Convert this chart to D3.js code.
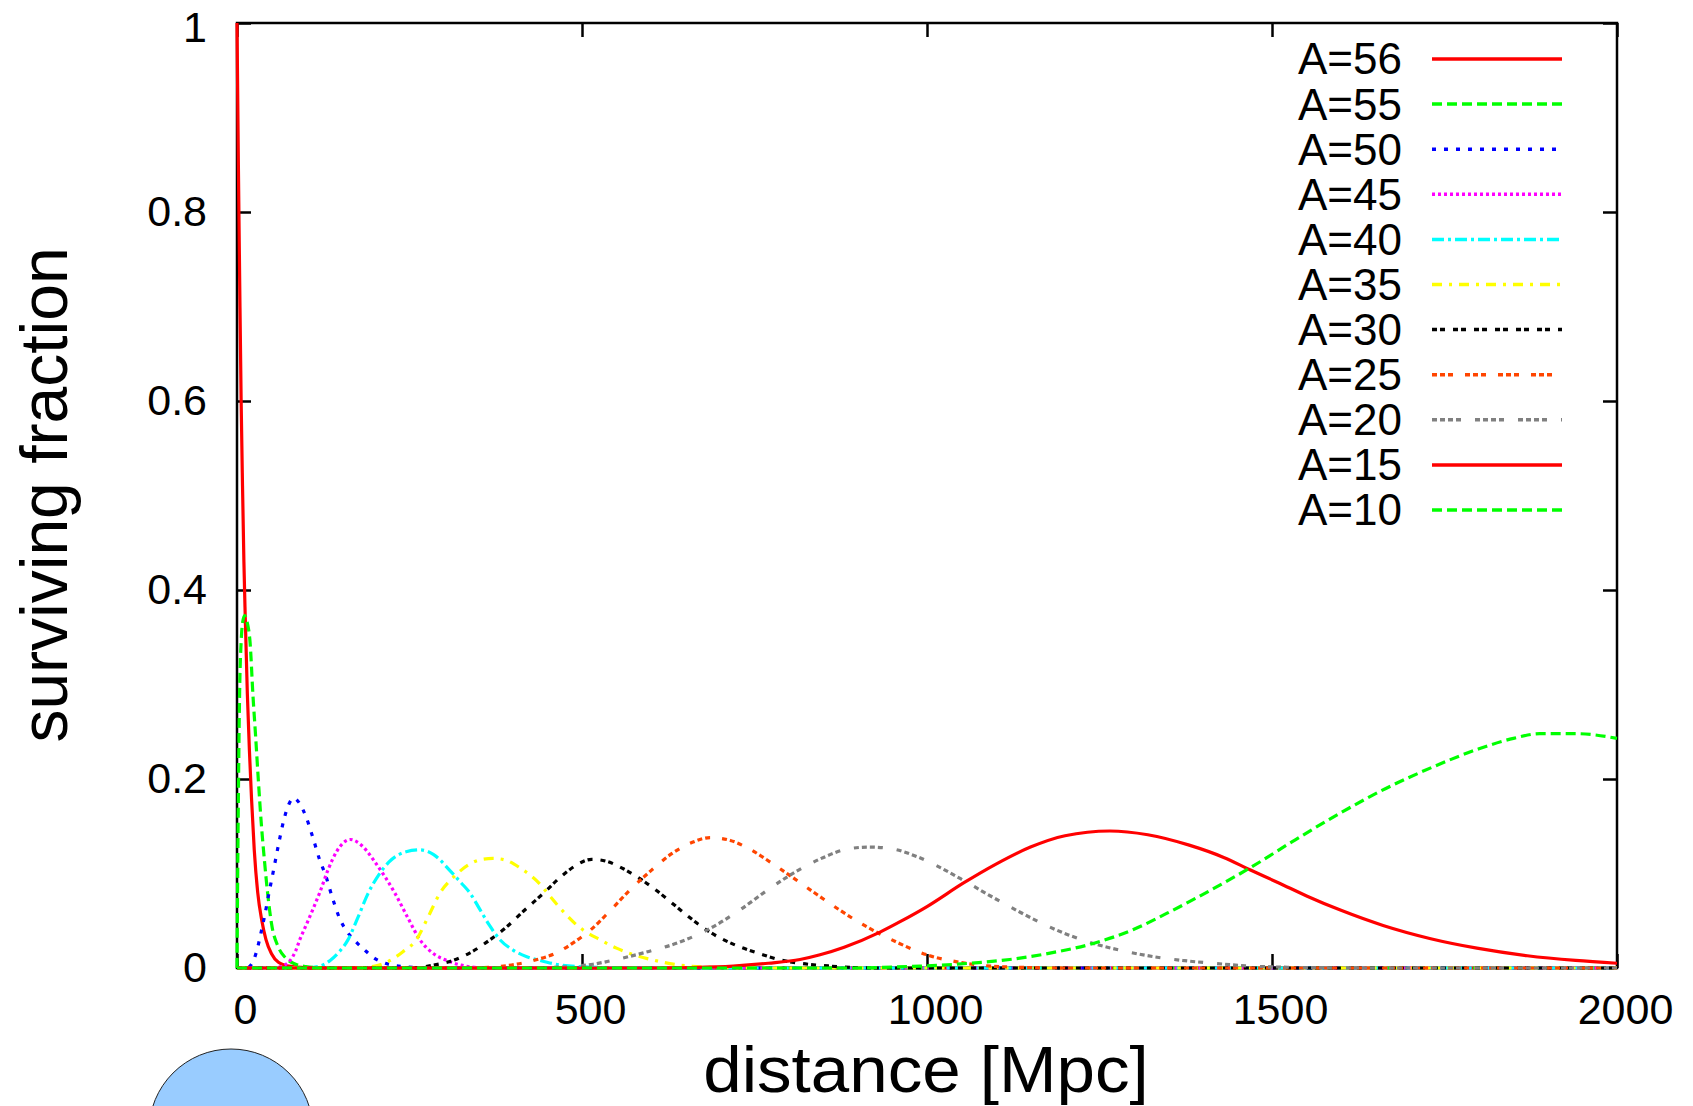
<!DOCTYPE html>
<html>
<head>
<meta charset="utf-8">
<script src="https://cdn.jsdelivr.net/npm/d3@7"></script>
<style>
    body { margin: 0; background: #fff; }
    svg { display: block; }
    text { font-family: "Liberation Sans", Arial, sans-serif; }
</style>
</head>
<body>
<div id="chart"></div>
<script>
// surviving fraction vs distance
const a56 = [[0, 1], [2, 0.85], [4, 0.72], [6, 0.6], [8, 0.51], [10, 0.43], [12, 0.37], [15, 0.29], [18, 0.23],
    [21, 0.18], [25, 0.125], [30, 0.08], [36, 0.05], [42, 0.03], [50, 0.015], [60, 0.006], [75, 0.002],
    [100, 0.0003], [150, 0], [2000, 0]];
const a55 = [[0, 0], [1, 0.1], [2, 0.18], [3, 0.25], [4, 0.3], [6, 0.345], [8, 0.365], [11, 0.373], [15, 0.365],
    [19, 0.344], [23, 0.29], [27, 0.245], [31, 0.198], [35, 0.155], [40, 0.112], [45, 0.075], [50, 0.047],
    [60, 0.022], [70, 0.011], [85, 0.004], [100, 0.0015], [130, 0], [2000, 0]];
const a50 = [[0, 0], [15, 0.0005], [20, 0.003], [25, 0.01], [30, 0.022], [35, 0.038], [40, 0.055], [46, 0.078],
    [52, 0.1], [60, 0.13], [68, 0.157], [75, 0.173], [82, 0.18], [90, 0.175], [100, 0.16], [110, 0.138],
    [120, 0.114], [128, 0.099], [138, 0.075], [149, 0.052], [160, 0.038], [172, 0.028], [185, 0.019],
    [200, 0.01], [215, 0.005], [240, 0.0015], [280, 0], [2000, 0]];
const a45 = [[0, 0], [50, 0], [65, 0.002], [77, 0.008], [85, 0.018], [91, 0.03], [100, 0.045], [110, 0.062],
    [120, 0.08], [132, 0.104], [145, 0.124], [155, 0.133], [164, 0.136], [175, 0.133], [188, 0.124],
    [200, 0.112], [215, 0.096], [229, 0.079], [247, 0.054], [265, 0.03], [285, 0.015], [304, 0.008],
    [325, 0.003], [350, 0.0005], [400, 0], [2000, 0]];
const a40 = [[0, 0], [100, 0], [120, 0.002], [135, 0.008], [148, 0.017], [161, 0.03], [175, 0.053], [190, 0.079],
    [205, 0.098], [220, 0.112], [245, 0.123], [265, 0.125], [285, 0.12], [310, 0.102], [325, 0.09],
    [338, 0.079], [352, 0.062], [366, 0.045], [381, 0.03], [400, 0.019], [420, 0.012], [439, 0.008],
    [470, 0.003], [510, 0.001], [560, 0], [2000, 0]];
const a35 = [[0, 0], [170, 0], [200, 0.002], [222, 0.008], [240, 0.017], [260, 0.03], [277, 0.054], [294, 0.079],
    [315, 0.097], [335, 0.109], [355, 0.115], [371, 0.116], [390, 0.114], [410, 0.106], [440, 0.088],
    [449, 0.08], [470, 0.062], [490, 0.047], [502, 0.04], [526, 0.03], [550, 0.021], [575, 0.014],
    [600, 0.009], [642, 0.003], [700, 0.0005], [760, 0], [2000, 0]];
const a30 = [[0, 0], [250, 0], [285, 0.003], [313, 0.008], [340, 0.017], [367, 0.03], [390, 0.043], [415, 0.06],
    [444, 0.079], [470, 0.097], [490, 0.108], [514, 0.115], [535, 0.113], [560, 0.105], [585, 0.094],
    [608, 0.082], [630, 0.069], [655, 0.054], [681, 0.04], [705, 0.03], [730, 0.022], [758, 0.015],
    [785, 0.009], [816, 0.005], [860, 0.002], [920, 0], [2000, 0]];
const a25 = [[0, 0], [330, 0], [370, 0.001], [405, 0.004], [435, 0.009], [463, 0.016], [490, 0.028], [512, 0.04],
    [540, 0.06], [570, 0.083], [600, 0.103], [630, 0.121], [660, 0.133], [686, 0.138], [715, 0.135],
    [745, 0.125], [775, 0.111], [805, 0.096], [840, 0.078], [870, 0.063], [900, 0.049], [932, 0.036],
    [960, 0.026], [985, 0.018], [1004, 0.013], [1040, 0.007], [1077, 0.003], [1130, 0.0008], [1200, 0], [2000, 0]];
const a20 = [[0, 0], [420, 0], [470, 0.001], [516, 0.004], [550, 0.009], [589, 0.016], [640, 0.027], [686, 0.042],
    [730, 0.062], [768, 0.082], [810, 0.102], [850, 0.117], [885, 0.126], [917, 0.128], [950, 0.126],
    [985, 0.118], [1020, 0.106], [1057, 0.091], [1095, 0.075], [1135, 0.059], [1170, 0.046], [1205, 0.035],
    [1241, 0.026], [1285, 0.018], [1328, 0.012], [1370, 0.008], [1415, 0.005], [1470, 0.002], [1550, 0.0005],
    [1650, 0], [2000, 0]];
const a15 = [[0, 0], [600, 0], [660, 0.0005], [719, 0.002], [770, 0.005], [816, 0.009], [845, 0.014], [880, 0.022],
    [932, 0.038], [961, 0.049], [1000, 0.065], [1053, 0.09], [1100, 0.11], [1150, 0.128], [1200, 0.14],
    [1265, 0.145], [1320, 0.141], [1380, 0.13], [1430, 0.117], [1468, 0.104], [1510, 0.09], [1551, 0.076],
    [1600, 0.061], [1661, 0.045], [1730, 0.031], [1797, 0.021], [1870, 0.013], [1940, 0.008], [2000, 0.005]];
const a10 = [[0, 0], [900, 0], [950, 0.001], [990, 0.002], [1062, 0.005], [1120, 0.009], [1180, 0.016],
    [1241, 0.026], [1300, 0.041], [1348, 0.058], [1390, 0.074], [1425, 0.088], [1466, 0.105], [1530, 0.134],
    [1599, 0.164], [1665, 0.19], [1734, 0.213], [1800, 0.232], [1850, 0.243], [1888, 0.248], [1940, 0.248],
    [2000, 0.243]];

const labels = ["A=56", "A=55", "A=50", "A=45", "A=40", "A=35", "A=30", "A=25", "A=20", "A=15", "A=10"];
const series = [a56, a55, a50, a45, a40, a35, a30, a25, a20, a15, a10];
const colors = ["#ff0000", "#00ff00", "#0000ff", "#ff00ff", "#00ffff", "#ffff00", "#000000", "#ff4500",
    "#808080", "#ff0000", "#00ff00"];
const dashes = ["none", "10,5", "4,8", "3,3", "12,4,3,4", "10,7,3,7", "5,3,5,8", "5,3,5,3,5,12",
    "5,3,5,3,5,3,5,14", "none", "10,5"];

const xTicks = [0, 500, 1000, 1500, 2000];
const yTicks = [0, 0.2, 0.4, 0.6, 0.8, 1];

const W = 1693, H = 1106;
const margin = {top: 23, right: 76, bottom: 138, left: 237}
    , width = W - margin.left - margin.right
    , height = H - margin.top - margin.bottom;

const svg = d3.select("#chart").append("svg")
    .attr("width", W)
    .attr("height", H);

svg.append("rect").attr("width", W).attr("height", H).attr("fill", "#fff");

const g = svg.append("g")
    .attr("transform", `translate(${margin.left},${margin.top})`);

const x = d3.scaleLinear().domain([0, 2000]).range([0, width]);
const y = d3.scaleLinear().domain([0, 1]).range([height, 0]);

const fontSize = 43;

// axes, ticks pointing inward on all four sides
const xBottom = g.append("g").attr("transform", `translate(0,${height})`)
    .call(d3.axisBottom(x).tickValues(xTicks).tickFormat(d3.format("d")).tickSizeInner(-14).tickSizeOuter(0).tickPadding(25));
const xTop = g.append("g")
    .call(d3.axisTop(x).tickValues(xTicks).tickFormat("").tickSizeInner(-14).tickSizeOuter(0));
const yLeft = g.append("g")
    .call(d3.axisLeft(y).tickValues(yTicks).tickFormat(d => d === 0 || d === 1 ? d3.format("d")(d) : d3.format(".1f")(d))
        .tickSizeInner(-14).tickSizeOuter(0).tickPadding(30));
const yRight = g.append("g").attr("transform", `translate(${width},0)`)
    .call(d3.axisRight(y).tickValues(yTicks).tickFormat("").tickSizeInner(-14).tickSizeOuter(0));

[xBottom, xTop, yLeft, yRight].forEach(a => {
    a.select(".domain").remove();
    a.selectAll(".tick line").attr("stroke", "#000").attr("stroke-width", 2.5);
    a.selectAll(".tick text").attr("font-size", fontSize).attr("fill", "#000")
        .attr("font-family", "'Liberation Sans', Arial, sans-serif");
});
xBottom.selectAll(".tick text").attr("dx", 8);
// top label sits right at the canvas edge: nudge it down a little
yLeft.selectAll(".tick text").filter(d => d === 1).attr("dy", "0.44em");

g.append("rect")
    .attr("width", width)
    .attr("height", height)
    .attr("fill", "none")
    .attr("stroke", "#000")
    .attr("stroke-width", 2.5);

// curves
const line = d3.line()
    .x(d => x(d[0]))
    .y(d => y(d[1]))
    .curve(d3.curveMonotoneX);

g.append("g").selectAll("path")
    .data(series)
    .enter().append("path")
    .attr("d", line)
    .attr("fill", "none")
    .attr("stroke", (d, i) => colors[i])
    .attr("stroke-width", 3.2)
    .attr("stroke-dasharray", (d, i) => dashes[i]);

// legend
const legend = g.append("g")
    .selectAll("g")
    .data(labels)
    .enter().append("g")
    .attr("transform", (d, i) => `translate(0,${36 + i * 45.1})`);

legend.append("text")
    .attr("x", 1402 - margin.left)
    .attr("dy", "0.35em")
    .attr("text-anchor", "end")
    .attr("font-size", 44)
    .text(d => d);

legend.append("line")
    .attr("x1", 1432 - margin.left)
    .attr("x2", 1562 - margin.left)
    .attr("stroke", (d, i) => colors[i])
    .attr("stroke-width", 3.5)
    .attr("stroke-dasharray", (d, i) => dashes[i]);

// axis titles
svg.append("text")
    .attr("transform", `translate(67,495) rotate(-90)`)
    .attr("text-anchor", "middle")
    .attr("font-size", 66)
    .text("surviving fraction");

// wide lettering like the original, kept clear of the tick labels and the bottom edge
svg.append("text")
    .attr("transform", "translate(926,1092) scale(1.08,1)")
    .attr("text-anchor", "middle")
    .attr("font-size", 64)
    .text("distance [Mpc]");

// stray blue disc at the bottom-left
svg.append("circle")
    .attr("cx", 231)
    .attr("cy", 1131)
    .attr("r", 82)
    .attr("fill", "#99ccff")
    .attr("stroke", "#222")
    .attr("stroke-width", 1);
</script>
</body>
</html>
